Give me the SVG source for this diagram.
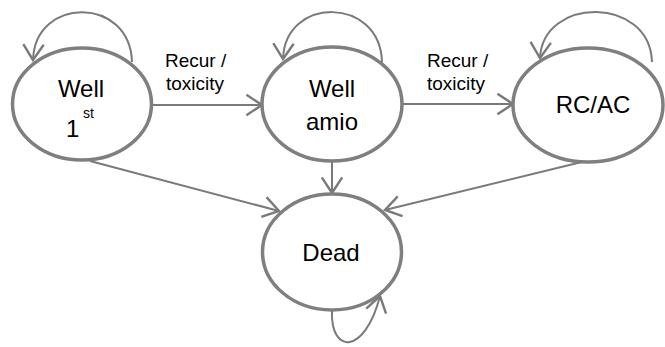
<svg xmlns="http://www.w3.org/2000/svg" width="665" height="347" viewBox="0 0 665 347">
<style>
.node{fill:#fff;stroke:#7f7f7f;stroke-width:3.5}
.edge{fill:none;stroke:#7a7a7a;stroke-width:2;marker-end:url(#arr)}
.t{font-family:"Liberation Sans",Arial,sans-serif;fill:#000}
.n{font-size:24px;text-anchor:middle}
.l{font-size:19px}
</style>
<defs>
<marker id="arr" markerUnits="userSpaceOnUse" markerWidth="20" markerHeight="24" viewBox="-14 -10 16 20" refX="0" refY="0" orient="auto">
<path d="M-13,-8.5 L0,0 L-13,8.5" fill="none" stroke="#7a7a7a" stroke-width="2"/>
</marker>
</defs>
<rect width="665" height="347" fill="#fff"/>
<g id="connectors">
<path class="edge" d="M132,62 C130,-4 35,-4 33,60"/>
<path class="edge" d="M382,62 C380,-4 285,-4 283,59"/>
<path class="edge" d="M652,62 C650,-4 543,-4 540,58"/>
<path class="edge" d="M332,310 C330,355 365,355 380,296"/>
<path class="edge" d="M151,105 L262,105"/>
<path class="edge" d="M402,104 L513,104"/>
<path class="edge" d="M332,162 L332,193"/>
<path class="edge" d="M90,161 L279,211"/>
<path class="edge" d="M590,160 L385,210"/>
<text class="t l" x="165" y="67">Recur /</text>
<text class="t l" x="166" y="90">toxicity</text>
<text class="t l" x="427" y="67">Recur /</text>
<text class="t l" x="427" y="90">toxicity</text>
</g>
<g id="well1st">
<ellipse class="node" cx="82" cy="104" rx="69.5" ry="56"/>
<text class="t n" x="81" y="97">Well</text>
<text class="t" font-size="24" x="66" y="137">1</text>
<text class="t" font-size="14" x="83" y="118">st</text>
</g>
<g id="wellamio">
<ellipse class="node" cx="332" cy="104" rx="70" ry="57"/>
<text class="t n" x="332" y="97">Well</text>
<text class="t n" x="332" y="130">amio</text>
</g>
<g id="rcac">
<ellipse class="node" cx="588" cy="105" rx="75" ry="57"/>
<text class="t n" x="593" y="113">RC/AC</text>
</g>
<g id="dead">
<ellipse class="node" cx="332" cy="252" rx="69.5" ry="58"/>
<text class="t n" x="331" y="261">Dead</text>
</g>
</svg>
